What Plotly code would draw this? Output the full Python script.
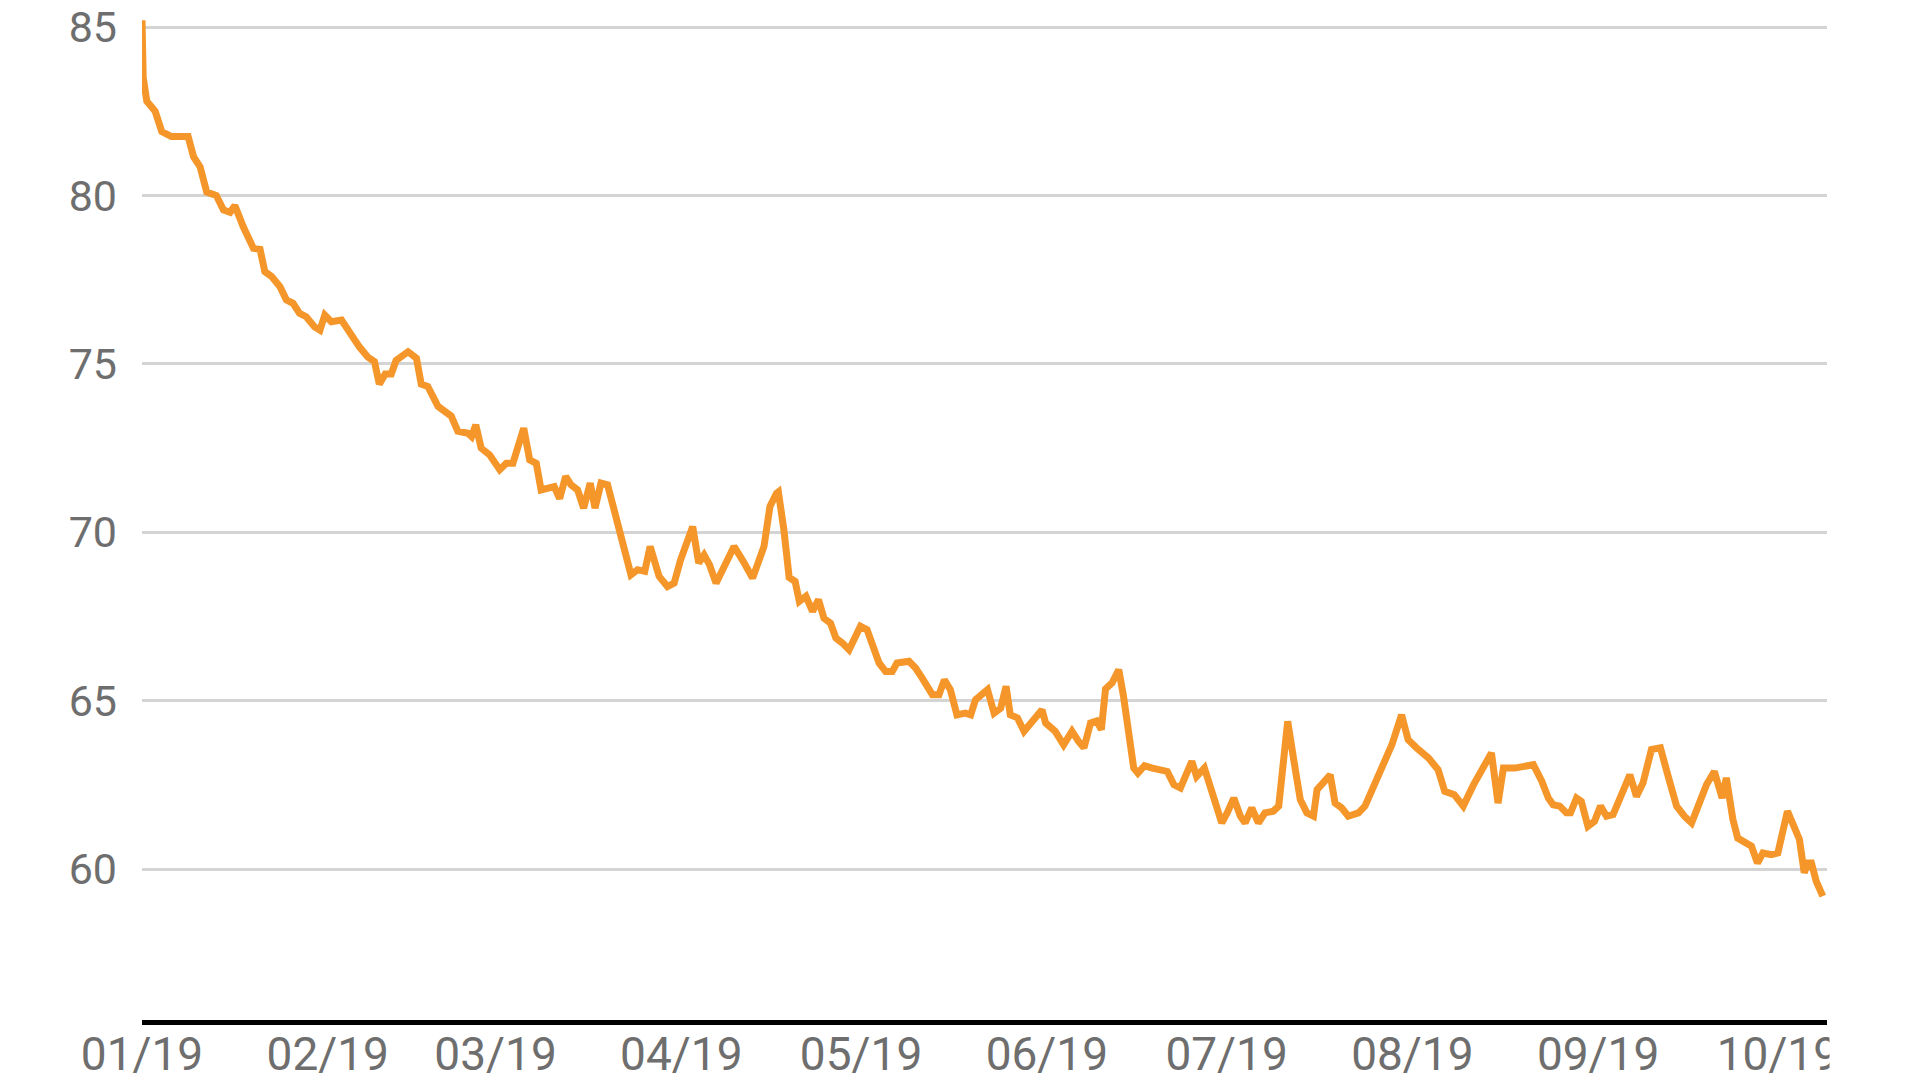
import pandas as pd
import plotly.graph_objects as go

# Days elapsed since 2019-01-01 and the plotted value
days = [
    0.0, 0.2, 0.8, 2.2, 3.3, 4.9, 7.7, 8.6, 9.7, 10.8, 12.4, 13.6, 14.7, 15.5, 16.9,
    18.6, 19.7, 20.5, 21.6, 23.0, 24.1, 25.2, 26.3, 27.4, 28.8, 29.7, 30.5, 31.6, 33.3,
    34.7, 36.3, 37.7, 38.8, 39.6, 40.6, 41.6, 42.4, 44.4, 45.8, 46.6, 47.7, 49.4, 50.5,
    51.6, 52.7, 54.4, 55.0, 55.7, 56.6, 58.0, 59.7, 60.8, 61.9, 63.7, 64.7, 65.8, 66.6,
    68.3, 68.8, 69.7, 70.7, 71.6, 72.7, 73.7, 74.8, 75.6, 76.6, 77.7, 79.1, 80.2, 81.6,
    82.7, 83.9, 84.8, 86.3, 87.7, 88.8, 89.9, 91.9, 92.9, 93.8, 94.7, 95.8, 96.9, 98.8,
    100.5, 101.9, 103.8, 104.8, 105.9, 106.2, 107.1, 108.0, 109.0, 109.7, 110.8, 111.9,
    112.9, 113.8, 114.9, 115.8, 116.9, 118.0, 119.9, 121.0, 123.0, 124.1, 125.2, 126.0,
    128.0, 129.1, 130.2, 131.9, 133.0, 133.9, 134.9, 136.0, 137.4, 138.3, 139.1, 141.1,
    142.2, 143.3, 144.2, 144.9, 146.1, 147.2, 148.6, 150.2, 150.8, 152.4, 153.8, 155.2,
    156.3, 157.2, 158.3, 159.3, 160.1, 160.8, 161.9, 163.0, 163.8, 164.3, 164.9, 165.5,
    166.2, 167.3, 168.6, 169.9, 171.1, 172.2, 173.3, 175.2, 176.0, 177.3, 178.6, 179.4,
    180.2, 181.1, 182.2, 183.3, 184.1, 185.2, 186.3, 187.4, 188.8, 189.7, 190.5, 191.2,
    192.2, 193.3, 194.4, 195.5, 196.1, 197.2, 198.3, 199.1, 200.2, 201.3, 203.0, 204.1,
    206.9, 208.6, 210.2, 211.3, 212.7, 214.7, 216.3, 217.4, 219.0, 220.5, 222.2, 223.8,
    225.2, 226.3, 227.2, 229.1, 232.2, 233.6, 234.7, 235.5, 236.6, 237.7, 238.4, 239.4,
    240.2, 241.3, 242.4, 243.4, 244.4, 245.5, 246.9, 248.3, 249.4, 250.5, 251.9, 253.4,
    254.7, 256.1, 257.4, 258.6, 259.7, 261.1, 262.4, 263.3, 263.7, 264.4, 265.5, 266.3,
    267.7, 268.6, 269.6, 270.5, 271.9, 273.0, 274.6, 275.5, 276.6, 277.4, 278.0, 278.6,
    279.4, 280.5,
]
values = [
    85.2, 83.5, 82.8, 82.5, 81.9, 81.75, 81.75, 81.15, 80.85, 80.1, 80.0, 79.57, 79.5, 79.7, 79.07,
    78.43, 78.4, 77.74, 77.6, 77.3, 76.9, 76.8, 76.5, 76.4, 76.1, 76.0, 76.45, 76.25, 76.3,
    75.9, 75.5, 75.2, 75.07, 74.4, 74.7, 74.7, 75.1, 75.36, 75.17, 74.4, 74.33, 73.74, 73.6,
    73.45, 73.0, 72.94, 72.84, 73.19, 72.5, 72.3, 71.86, 72.05, 72.05, 73.09, 72.15, 72.05, 71.26,
    71.31, 71.36, 71.0, 71.66, 71.41, 71.26, 70.72, 71.46, 70.72, 71.46, 71.41, 70.47, 69.88, 68.74,
    68.89, 68.84, 69.58, 68.69, 68.39, 68.49, 69.19, 70.17, 69.09, 69.33, 69.04, 68.49, 68.89, 69.58,
    69.09, 68.64, 69.58, 70.77, 71.16, 71.2, 70.1, 68.66, 68.54, 67.95, 68.1, 67.65,
    68.0, 67.45, 67.3, 66.86, 66.71, 66.51, 67.21, 67.11, 66.12, 65.87, 65.87, 66.12,
    66.17, 65.97, 65.67, 65.18, 65.18, 65.62, 65.33, 64.58, 64.63, 64.58, 65.03, 65.33,
    64.63, 64.78, 65.43, 64.58, 64.49, 64.09, 64.39, 64.73, 64.34, 64.09, 63.69, 64.09,
    63.79, 63.6, 64.34, 64.4, 64.14, 65.35, 65.53, 65.92, 65.13, 64.4, 63.5, 63.0,
    62.85, 63.07, 63.0, 62.95, 62.9, 62.51, 62.41, 63.2, 62.75, 63.0, 62.26, 61.87,
    61.37, 61.67, 62.11, 61.57, 61.37, 61.82, 61.37, 61.67, 61.72, 61.87, 63.25, 64.39,
    63.25, 62.06, 61.67, 61.57, 62.36, 62.56, 62.8, 61.96, 61.82, 61.57, 61.67, 61.87,
    62.95, 63.7, 64.58, 63.84, 63.6, 63.3, 62.95, 62.31, 62.21, 61.87, 62.5, 63.05,
    63.45, 61.96, 63.0, 63.0, 63.1, 62.61, 62.11, 61.91, 61.87, 61.67, 61.67, 62.11,
    62.01, 61.27, 61.42, 61.87, 61.57, 61.62, 62.26, 62.8, 62.16, 62.56, 63.55, 63.6,
    62.75, 61.87, 61.57, 61.37, 61.87, 62.51, 62.9, 62.26, 62.11, 62.71, 61.47, 60.92,
    60.78, 60.68, 60.18, 60.48, 60.43, 60.48, 61.72, 61.37, 60.88, 59.89, 60.18, 60.18,
    59.64, 59.2,
]

y_ticks = [60, 65, 70, 75, 80, 85]
x_tick_dates = ["2019-01-01", "2019-02-01", "2019-03-01", "2019-04-01", "2019-05-01",
                "2019-06-01", "2019-07-01", "2019-08-01", "2019-09-01", "2019-10-01"]
x_tick_labels = ["01/19", "02/19", "03/19", "04/19", "05/19",
                 "06/19", "07/19", "08/19", "09/19", "10/19"]

start = pd.Timestamp("2019-01-01")
dates = start + pd.to_timedelta(days, unit="D")

fig = go.Figure()
fig.add_trace(go.Scatter(
    x=dates, y=values, mode="lines",
    line=dict(color="#F5962A", width=7),
    hoverinfo="skip",
))

fig.update_layout(
    width=1920, height=1080,
    margin=dict(l=142, r=93, t=17, b=60, autoexpand=False),
    paper_bgcolor="white", plot_bgcolor="white",
    showlegend=False,
    xaxis=dict(
        type="date",
        range=[start, start + pd.Timedelta(days=281.2)],
        tickvals=x_tick_dates, ticktext=x_tick_labels,
        tickangle=0, automargin=False, ticklabeloverflow="allow",
        showgrid=False, zeroline=False,
        showline=True, linecolor="black", linewidth=5,
        ticks="", ticklabelstandoff=-10,
        tickfont=dict(family="Roboto", size=46, color="#6e6e6e"),
    ),
    yaxis=dict(
        range=[55.52, 85.3],
        tickvals=y_ticks, automargin=False, ticklabeloverflow="allow",
        showgrid=True, gridcolor="#d4d4d4", gridwidth=3,
        zeroline=False, showline=False,
        ticks="", ticklabelstandoff=24,
        tickfont=dict(family="Roboto", size=43, color="#6e6e6e"),
    ),
    shapes=[dict(
        type="rect", xref="paper", yref="paper",
        x0=1.0015, x1=1.2, y0=-0.2, y1=-0.004,
        fillcolor="white", line=dict(width=0), layer="above",
    )],
)

fig.write_html(
    "out.html",
    config={"displayModeBar": False},
    post_script="document.body.style.margin='0';document.body.style.overflow='hidden';",
)
